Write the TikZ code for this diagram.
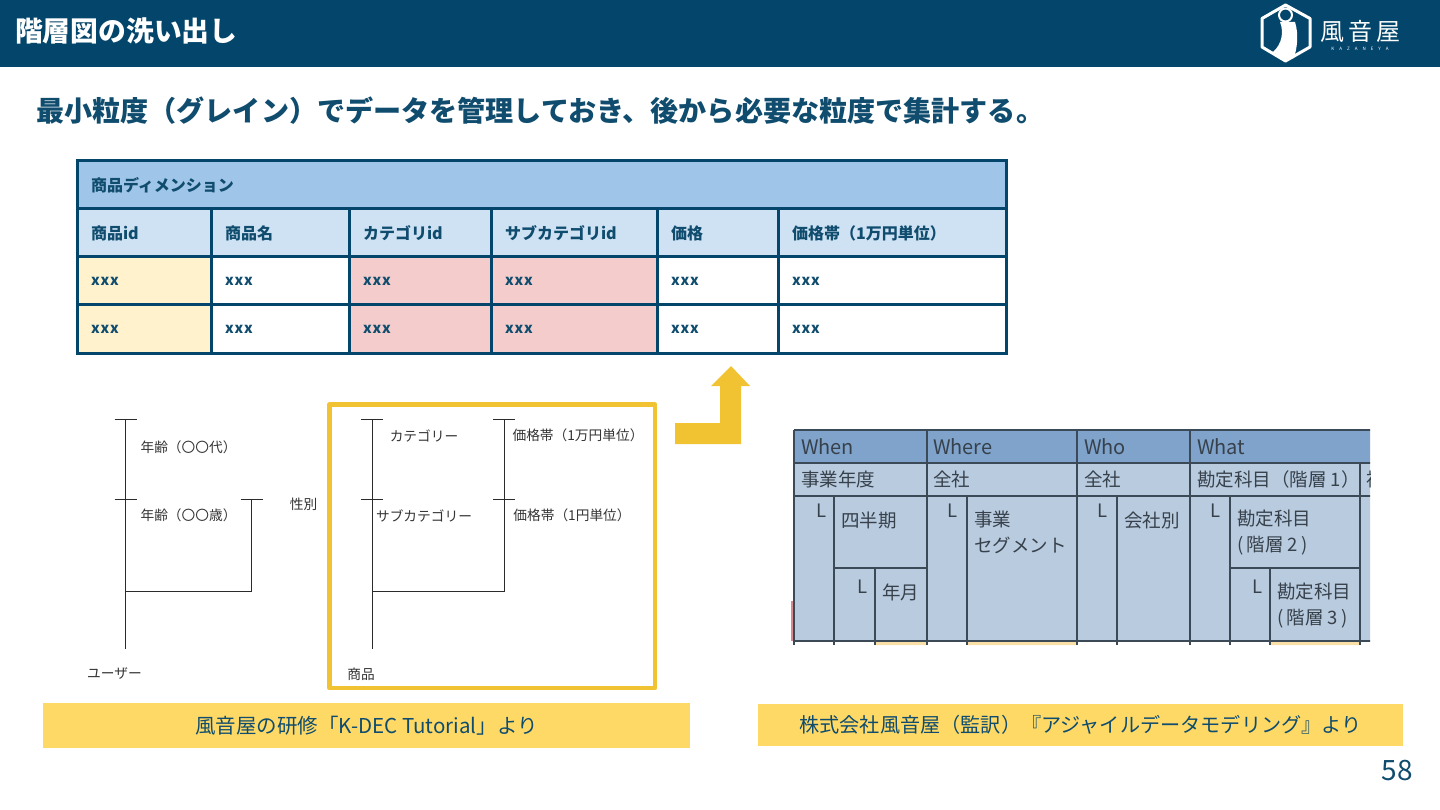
\documentclass[tikz,border=0pt]{standalone}
\usepackage{fontspec}
\setmainfont{Noto Sans CJK JP}
\usetikzlibrary{positioning,calc}
\definecolor{navy}{HTML}{03456B}
\definecolor{ink}{HTML}{0F4C6E}
\definecolor{titlefill}{HTML}{9FC5E8}
\definecolor{headfill}{HTML}{CFE2F3}
\definecolor{keyfill}{HTML}{FFF2CC}
\definecolor{fkfill}{HTML}{F4CCCC}
\definecolor{gold}{HTML}{F1C232}
\definecolor{capfill}{HTML}{FFD966}
\definecolor{shotblue}{HTML}{7FA3CB}
\definecolor{shotbody}{HTML}{B9CBDF}
\definecolor{shotline}{HTML}{3C4A58}
\definecolor{shottext}{HTML}{37414B}
\definecolor{shotamber}{HTML}{FAE0A6}
\definecolor{shotrose}{HTML}{D98A8F}
\definecolor{rule}{HTML}{2B2B2B}
\tikzset{
  cell/.style={draw=navy,line width=3pt,outer sep=0pt,inner xsep=14pt,inner ysep=0pt,
    minimum height=48pt,align=left,text=ink},
  bodycell/.style={cell,text height=10pt,text depth=0pt,
    font=\fontsize{14.5}{16}\selectfont\bfseries\addfontfeature{LetterSpace=6}},
  headcell/.style={cell,fill=headfill,font=\fontsize{16}{18}\selectfont\bfseries},
  wa/.style={minimum width=134pt,text width=106pt},
  wb/.style={minimum width=138pt,text width=110pt},
  wc/.style={minimum width=142pt,text width=114pt},
  wd/.style={minimum width=166pt,text width=138pt},
  we/.style={minimum width=121pt,text width=93pt},
  wf/.style={minimum width=228pt,text width=200pt},
  hier/.style={draw=rule,line width=1pt},
  hierlabel/.style={text=black!80,font=\fontsize{13.7}{15}\selectfont,inner sep=0pt},
  shotlabel/.style={text=shottext,anchor=west,align=left,inner sep=0pt,
    font=\fontsize{18.5}{26}\selectfont},
  shotcap/.style={shotlabel,font=\fontsize{20}{24}\selectfont},
  shotrule/.style={draw=shotline,line width=1.4pt},
  caption/.style={fill=capfill,text=ink,outer sep=0pt}
}
\begin{document}
\begin{tikzpicture}[x=1pt,y=-1pt]
  \useasboundingbox (0,0) rectangle (1440,810);
  % header band
  \fill[navy] (0,0) rectangle (1440,67);
  \node[anchor=west,inner sep=0pt,text=white,font=\fontsize{27.8}{30}\selectfont\bfseries] (pagetitle) at (15,31) {階層図の洗い出し};
  \draw[white,line width=3pt,line join=round] (1285.5,5) -- (1310,18.5) -- (1310,47) -- (1285.5,61) -- (1262,47) -- (1262,18.5) -- cycle;
  \draw[white,line width=2pt,fill=navy] (1285.5,15) circle (6.5pt);
  \fill[white] (1280,22) -- (1295,22) .. controls (1299,35) and (1297,48) .. (1294,58) -- (1285,60) -- (1273,52) .. controls (1282,44) and (1284,32) .. cycle;
  \node[text=white,inner sep=0pt,font=\fontsize{24}{26}\selectfont] (logoname) at (1360,31) {風\hspace{4pt}音\hspace{4pt}屋};
  \node[below=5pt of logoname,text=white,inner sep=0pt,font=\fontsize{4.5}{5}\selectfont] (logoroman) {K\hspace{5pt}A\hspace{5pt}Z\hspace{5pt}A\hspace{5pt}N\hspace{5pt}E\hspace{5pt}Y\hspace{5pt}A};
  % lead sentence
  \node[anchor=west,inner sep=0pt,text=ink,font=\fontsize{28.1}{32}\selectfont\bfseries] (lead) at (36,111) {最小粒度（グレイン）でデータを管理しておき、後から必要な粒度で集計する。};
  % dimension table
  \node[cell,fill=titlefill,minimum width=929pt,text width=901pt,anchor=north west,font=\fontsize{16}{18}\selectfont\bfseries] (dim) at (77,161) {\raisebox{2pt}{商品ディメンション}};
  \node[headcell,wa,anchor=north west] (h1) at (dim.south west) {商品id};
  \node[headcell,wb,right=0pt of h1] (h2) {商品名};
  \node[headcell,wc,right=0pt of h2] (h3) {カテゴリid};
  \node[headcell,wd,right=0pt of h3] (h4) {サブカテゴリid};
  \node[headcell,we,right=0pt of h4] (h5) {価格};
  \node[headcell,wf,right=0pt of h5] (h6) {価格帯（1万円単位）};
  \foreach \rid/\prev in {p/h,q/p}{
    \node[bodycell,wa,fill=keyfill,below=0pt of \prev1] (\rid1) {xxx};
    \node[bodycell,wb,fill=white,below=0pt of \prev2] (\rid2) {xxx};
    \node[bodycell,wc,fill=fkfill,below=0pt of \prev3] (\rid3) {xxx};
    \node[bodycell,wd,fill=fkfill,below=0pt of \prev4] (\rid4) {xxx};
    \node[bodycell,we,fill=white,below=0pt of \prev5] (\rid5) {xxx};
    \node[bodycell,wf,fill=white,below=0pt of \prev6] (\rid6) {xxx};
  }
  % arrow and frame
  \fill[gold] (675,423) -- (720,423) -- (720,386) -- (711,386) -- (731,366) -- (750,386) -- (741,386) -- (741,444) -- (675,444) -- cycle;
  \draw[gold,line width=4.5pt,line join=round] (329.5,404.5) rectangle (655,688);
  % user hierarchy
  \coordinate (ua) at (125.5,419);
  \coordinate (ub) at (125.5,499);
  \coordinate (uc) at (125.5,591);
  \coordinate (ud) at (125.5,649);
  \coordinate (ue) at (251.5,499);
  \coordinate (uf) at (251.5,591);
  \draw[hier] (ua) -- (ud);
  \draw[hier] (uc) -- (uf) -- (ue);
  \node[hierlabel] (agea) at (188.5,447.5) {年齢（〇〇代）};
  \node[hierlabel] (ageb) at (188.5,515.5) {年齢（〇〇歳）};
  \node[hierlabel] (user) at (114.5,673.5) {ユーザー};
  \node[hierlabel] (gender) at (303.5,504.5) {性別};
  % product hierarchy
  \coordinate (ca) at (372,419);
  \coordinate (cb) at (372,499);
  \coordinate (cc) at (372,591);
  \coordinate (cd) at (372,649);
  \coordinate (pa) at (504,419);
  \coordinate (pb) at (504,499);
  \coordinate (pc) at (504,591);
  \draw[hier] (ca) -- (cd);
  \draw[hier] (cc) -- (pc) -- (pa);
  \foreach \tick in {ua,ub,ue,ca,cb,pa,pb}
    \draw[hier] ([xshift=-11pt]\tick) -- ([xshift=11pt]\tick);
  \node[hierlabel] (cata) at (424,435.5) {カテゴリー};
  \node[hierlabel] (catb) at (424,515.5) {サブカテゴリー};
  \node[hierlabel] (pricea) at (578,435.5) {価格帯（1万円単位）};
  \node[hierlabel] (priceb) at (572,515.5) {価格帯（1円単位）};
  \node[hierlabel] (goods) at (361,674.5) {商品};
  % book excerpt
  \fill[shotrose] (791,601) rectangle (794,641);
  \fill[shotamber] (875,641) rectangle (927,645) (967,641) rectangle (1077,645) (1270,641) rectangle (1360,645);
  \begin{scope}
    \clip (785,425) rectangle (1370,650);
    \fill[shotblue] (794,430) rectangle (1375,463);
    \fill[shotbody] (794,463) rectangle (1375,641);
    \draw[shotrule] (794,430) -- (1375,430) (794,463) -- (1375,463) (794,496) -- (1375,496) (794,641) -- (1375,641);
    \draw[shotrule] (834,568) -- (927,568) (1230,568) -- (1360,568);
    \foreach \xa in {794,927,1077,1190}
      \draw[shotrule] (\xa,430) -- (\xa,645);
    \draw[shotrule] (1360,463) -- (1360,645);
    \foreach \xa in {834,967,1117,1230}
      \draw[shotrule] (\xa,496) -- (\xa,645);
    \foreach \xa in {875,1270}
      \draw[shotrule] (\xa,568) -- (\xa,645);
    \node[shotcap] (when) at (801,447) {When};
    \node[shotcap] (where) at (933,447) {Where};
    \node[shotcap] (who) at (1084,447) {Who};
    \node[shotcap] (what) at (1197,447) {What};
    \node[shotlabel] (year) at (801,479) {事業年度};
    \node[shotlabel] (corpa) at (933,479) {全社};
    \node[shotlabel] (corpb) at (1084,479) {全社};
    \node[shotlabel] (acca) at (1197,479) {勘定科目（階層 1）};
    \node[shotlabel] (acct) at (1366,479) {補};
    \foreach \lx/\ly in {822/511,953/511,1103/511,1216/511,863/587,1258/587}
      \node[shotlabel,anchor=center] at (\lx,\ly) {L};
    \node[shotlabel] (quarter) at (841,520) {四半期};
    \node[shotlabel] (month) at (882,592) {年月};
    \node[shotlabel] (segment) at (974,532) {事業\\セグメント};
    \node[shotlabel] (company) at (1124,520) {会社別};
    \node[shotlabel] (accb) at (1237,533) {勘定科目\\(\,階層 2\,)};
    \node[shotlabel] (accc) at (1277,606) {勘定科目\\(\,階層 3\,)};
  \end{scope}
  % captions and page number
  \node[caption,font=\fontsize{20.5}{24}\selectfont,minimum width=647pt,minimum height=45pt] (capa) at (366.5,725.5) {風音屋の研修「K-DEC Tutorial」より};
  \node[caption,font=\fontsize{20.15}{24}\selectfont,minimum width=645pt,minimum height=42pt] (capb) at (1080.5,725) {株式会社風音屋（監訳）『アジャイルデータモデリング』より};
  \node[text=ink,inner sep=0pt,font=\fontsize{28}{30}\selectfont] (pageno) at (1397.5,771) {58};
\end{tikzpicture}
\end{document}
